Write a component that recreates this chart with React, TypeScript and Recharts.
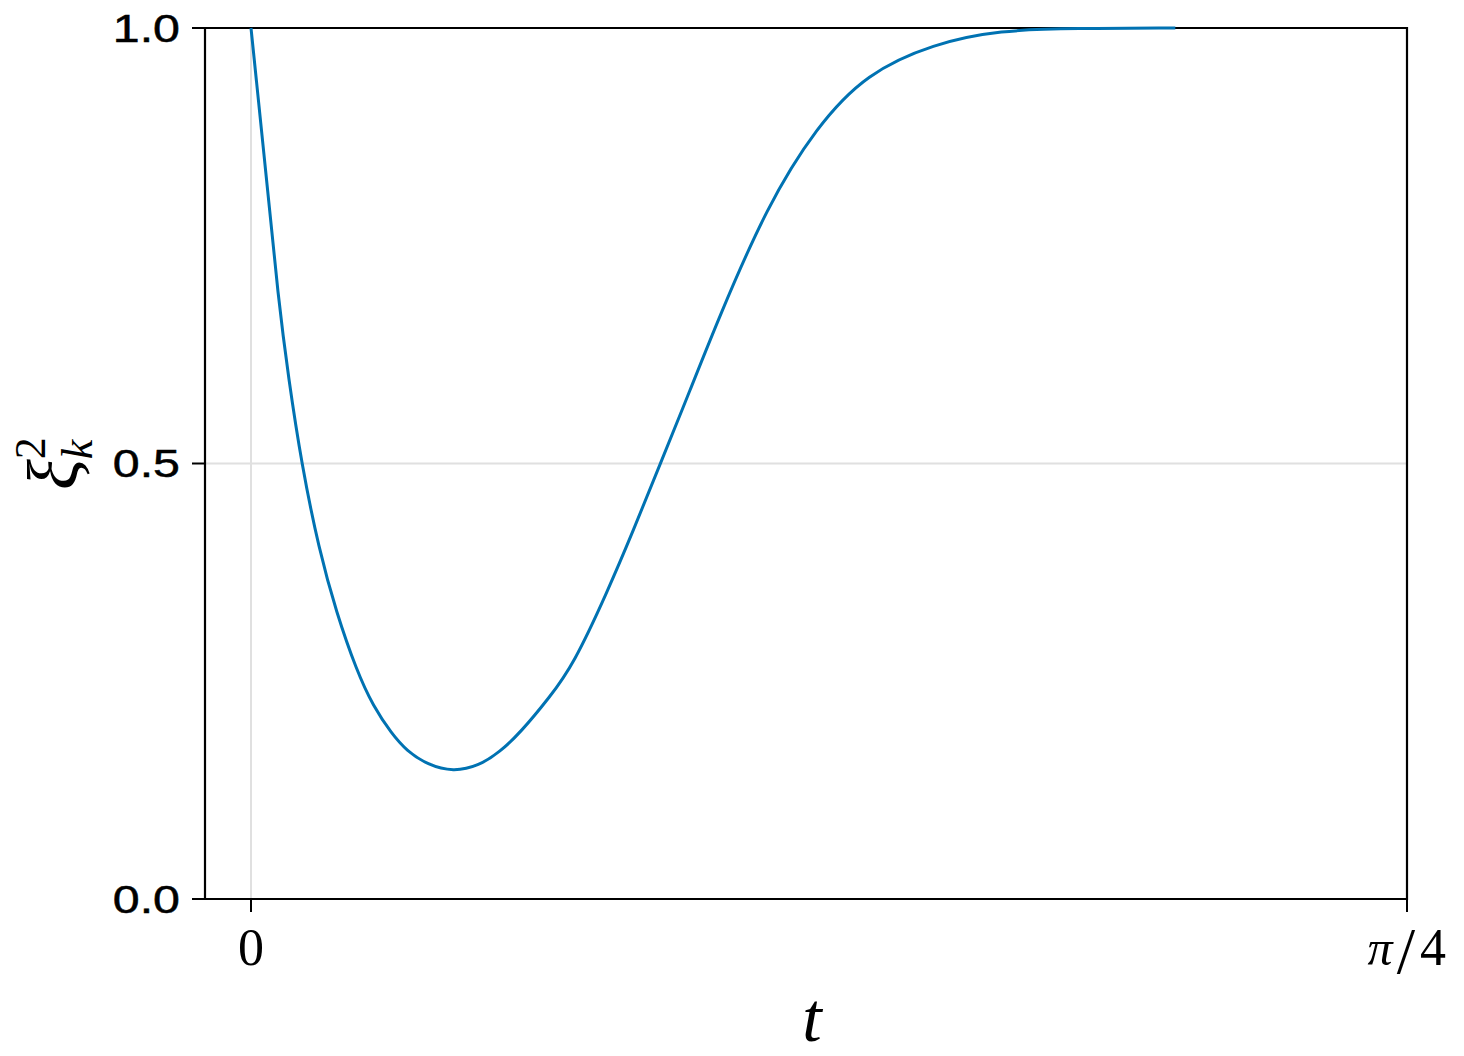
import { LineChart, Line, XAxis, YAxis, CartesianGrid, ReferenceArea } from "recharts";

// t samples (radians) and the squeezing value ξ²_k
const tValues = [
  0, 0.0102, 0.0186, 0.0255, 0.0344, 0.0462, 0.058, 0.0718, 0.0831, 0.0955, 0.1058, 0.12, 0.1374,
  0.155, 0.1692, 0.183, 0.2031, 0.219, 0.2417, 0.26, 0.2779, 0.2983, 0.3175, 0.3504, 0.3843,
  0.4183, 0.4636, 0.5089, 0.56, 0.628,
];
const xiValues = [
  1.0, 0.833, 0.688, 0.598, 0.499, 0.401, 0.329, 0.262, 0.221, 0.19, 0.17, 0.154, 0.146, 0.153,
  0.169, 0.191, 0.232, 0.269, 0.351, 0.424, 0.499, 0.584, 0.666, 0.795, 0.887, 0.948, 0.982, 0.9977,
  0.9995, 1.0,
];
const xTicks = [0, Math.PI / 4];
const yTicks = [0, 0.5, 1];

const data = tValues.map((t, i) => ({ t, xi: xiValues[i] }));

const X_MIN = -0.03125;
const X_MAX = Math.PI / 4;

const YTick = (props: any) => {
  const { x, y, payload } = props;
  return (
    <text
      transform={`translate(${x},${y + 13.5}) scale(1.24,1)`}
      textAnchor="end"
      fontFamily="Liberation Sans, Arial, sans-serif"
      fontSize={39}
      fill="#000"
      stroke="#000"
      strokeWidth={0.5}
    >
      {Number(payload.value).toFixed(1)}
    </text>
  );
};

const XTick = (props: any) => {
  const { x, y, index } = props;
  const base = y + 43;
  if (index === 0) {
    return (
      <text x={x} y={base} textAnchor="middle" fontFamily="Liberation Serif, serif" fontSize={52} fill="#000">
        0
      </text>
    );
  }
  const cx = x + 13;
  return (
    <g fontFamily="Liberation Serif, serif" fill="#000">
      <text x={cx - 27} y={base} textAnchor="middle" fontStyle="italic" fontSize={50}>
        π
      </text>
      <text x={cx - 1} y={base + 8} textAnchor="middle" fontSize={66}>
        /
      </text>
      <text x={cx + 26} y={base} textAnchor="middle" fontSize={52}>
        4
      </text>
    </g>
  );
};

const YLabel = () => (
  <text
    transform="translate(78,490) rotate(-90)"
    fontFamily="Liberation Serif, serif"
    fontSize={72}
    fill="#000"
  >
    <tspan fontStyle="italic">ξ</tspan>
    <tspan fontSize={44} dy={-33}>2</tspan>
    <tspan fontSize={44} fontStyle="italic" dx={-22} dy={47}>k</tspan>
  </text>
);

const XLabel = () => (
  <text
    x={812}
    y={1041}
    textAnchor="middle"
    fontFamily="Liberation Serif, serif"
    fontStyle="italic"
    fontSize={70}
    fill="#000"
  >
    t
  </text>
);

export default function App() {
  return (
    <div style={{ position: "absolute", left: 0, top: 0, background: "#fff" }}>
      <LineChart
        width={1464}
        height={1056}
        data={data}
        margin={{ top: 28, right: 57, bottom: 0, left: 0 }}
      >
        <CartesianGrid stroke="#e0e0e0" strokeWidth={2} />
        <XAxis
          dataKey="t"
          type="number"
          domain={[X_MIN, X_MAX]}
          allowDataOverflow
          ticks={xTicks}
          height={157}
          axisLine={false}
          tickLine={{ stroke: "#000", strokeWidth: 2 }}
          tickSize={13}
          tickMargin={10}
          tick={<XTick />}
          label={<XLabel />}
        />
        <YAxis
          type="number"
          domain={[0, 1]}
          ticks={yTicks}
          width={205}
          axisLine={false}
          tickLine={{ stroke: "#000", strokeWidth: 2 }}
          tickSize={13}
          tickMargin={12}
          tick={<YTick />}
          label={<YLabel />}
        />
        <ReferenceArea
          x1={X_MIN}
          x2={X_MAX}
          y1={0}
          y2={1}
          fill="none"
          stroke="#000"
          strokeWidth={2.2}
          ifOverflow="visible"
        />
        <Line
          type="basis"
          dataKey="xi"
          stroke="#0072b2"
          strokeWidth={3}
          dot={false}
          isAnimationActive={false}
        />
      </LineChart>
    </div>
  );
}
